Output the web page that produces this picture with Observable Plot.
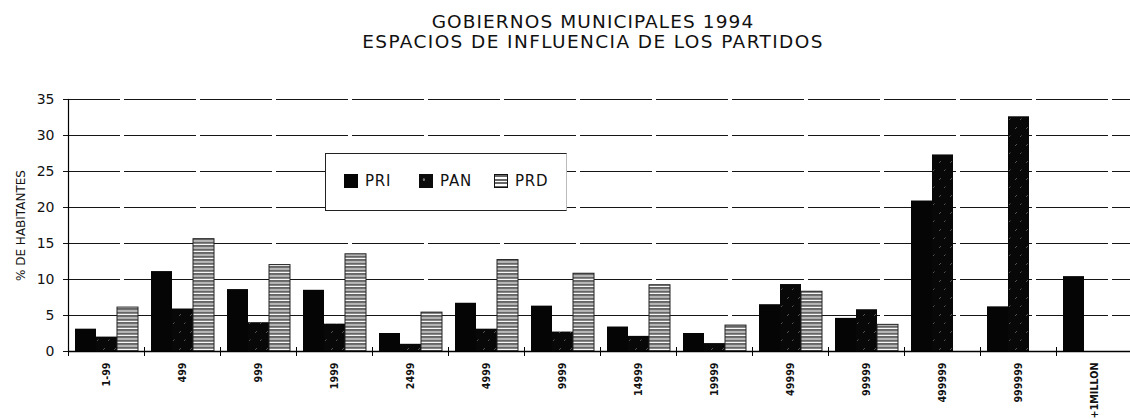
<!DOCTYPE html>
<html>
<head>
<meta charset="utf-8">
<script src="https://cdn.jsdelivr.net/npm/d3@7"></script>
<script src="https://cdn.jsdelivr.net/npm/@observablehq/plot@0.6"></script>
<style>
  body { margin: 0; background: #fff; font-family: "DejaVu Sans", sans-serif; color: #111; }
  #wrap { position: relative; width: 1130px; height: 420px; overflow: hidden; background: #fff; }
  .tl { position: absolute; left: 593px; transform: translateX(-50%); text-align: center;
        font-size: 18.5px; line-height: 18px; white-space: nowrap; color: #111; }
  #t1 { top: 13px; letter-spacing: 1.1px; }
  #t2 { top: 33px; letter-spacing: 1.4px; }
  #chart { position: absolute; left: 0; top: 56px; }
  #legend { position: absolute; left: 325px; top: 153px; width: 242px; height: 58px; background: #fff;
            border: 1px solid #222; border-right-color: #bbb; box-sizing: border-box; }
  .sw { position: absolute; top: 20px; width: 14px; height: 14px; box-sizing: border-box; }
  .lt { position: absolute; top: 19px; font-size: 15px; line-height: 17px; letter-spacing: 0.8px; color: #111; }
</style>
</head>
<body>
<div id="wrap">
  <div class="tl" id="t1">GOBIERNOS MUNICIPALES 1994</div>
  <div class="tl" id="t2">ESPACIOS DE INFLUENCIA DE LOS PARTIDOS</div>
  <div id="chart"></div>
  <div id="legend"></div>
</div>
<script>
// ---- data ----
const categories = ["1-99", "499", "999", "1999", "2499", "4999", "9999", "14999", "19999", "49999", "99999", "499999", "999999", "+1MILLON"];
const parties = ["PRI", "PAN", "PRD"];
const pri = [3.1, 11.1, 8.6, 8.5, 2.5, 6.7, 6.3, 3.4, 2.5, 6.5, 4.6, 20.9, 6.2, 10.4];
const pan = [2.0, 5.9, 4.0, 3.8, 1.0, 3.1, 2.7, 2.1, 1.1, 9.3, 5.8, 27.3, 32.6, null];
const prd = [6.1, 15.6, 12.0, 13.5, 5.4, 12.7, 10.8, 9.2, 3.6, 8.3, 3.7, null, null, null];
const yTicks = [0, 5, 10, 15, 20, 25, 30, 35];
const yLabel = "% DE HABITANTES";

const series = { PRI: pri, PAN: pan, PRD: prd };
const rows = p => categories.map((c, i) => ({ cat: c, party: p, value: series[p][i] })).filter(d => d.value != null);

const fills = { PRI: "#050505", PAN: "url(#panPat)", PRD: "url(#prdPat)" };

const chart = Plot.plot({
  width: 1130,
  height: 364,
  marginLeft: 66,
  marginRight: -3,
  marginTop: 43,
  marginBottom: 69,
  style: { fontFamily: "DejaVu Sans, sans-serif", background: "transparent", color: "#111", overflow: "visible" },
  fx: { domain: categories, paddingInner: 0, paddingOuter: 0, label: null },
  x: { domain: parties, axis: null, paddingInner: 0, paddingOuter: 0.243 },
  y: { domain: [0, 35], axis: null },
  marks: [
    Plot.ruleY(yTicks.filter(t => t > 0), { stroke: "#151515", strokeWidth: 1.1, strokeDasharray: "52,4,26,3,38,7" }),
    ...parties.map(p => Plot.barY(rows(p), {
      fx: "cat", x: "party", y: "value", fill: fills[p],
      stroke: p === "PRD" ? "#222" : null, strokeWidth: 1
    })),
    Plot.ruleY([0], { stroke: "#000", strokeWidth: 1.4 }),
    Plot.dot([0], { frameAnchor: "bottom-left", symbol: "plus", r: 3, stroke: "#000", strokeWidth: 1 }),
    Plot.frame({ anchor: "left", facetAnchor: "left", stroke: "#000", strokeWidth: 1.2 }),
    Plot.axisY({ ticks: yTicks, tickSize: 5, tickPadding: 9, fontSize: 14, label: null, facetAnchor: "left" }),
    Plot.text([yLabel], { frameAnchor: "left", dx: -47, rotate: -90, textAnchor: "middle", fontSize: 12, facetAnchor: "left", fill: "#111" }),
    Plot.axisFx({ anchor: "bottom", tickRotate: -90, tickSize: 0, tickPadding: 11, fontSize: 9.6, fontWeight: "bold", label: null })
  ]
});

d3.select(chart).insert("defs", ":first-child").html(`
  <pattern id="panPat" patternUnits="userSpaceOnUse" width="11" height="17">
    <rect width="11" height="17" fill="#080808"/>
    <path d="M2 5l2 -2 M7 13l1.5 -1.5" stroke="#777" stroke-width="0.7"/>
  </pattern>
  <pattern id="prdPat" patternUnits="userSpaceOnUse" width="8" height="3.5">
    <rect width="8" height="3.5" fill="#666"/>
    <rect y="2.4" width="8" height="1.1" fill="#ffffff"/>
  </pattern>
`);
document.getElementById("chart").appendChild(chart);

// legend (inside plot area, as in the reference)
const legend = document.getElementById("legend");
const swStyles = {
  PRI: "background:#050505;",
  PAN: "background:#0c0c0c radial-gradient(circle at 35% 40%, #777 0 1px, transparent 1.5px);",
  PRD: "background:repeating-linear-gradient(#666 0 2.4px, #fff 2.4px 3.5px);border:1.5px solid #111;"
};
const legendX = [18, 93, 168];
parties.forEach((p, i) => {
  const s = document.createElement("div");
  s.className = "sw";
  s.style.cssText = swStyles[p] + `left:${legendX[i]}px;`;
  legend.appendChild(s);
  const t = document.createElement("div");
  t.className = "lt";
  t.style.left = (legendX[i] + 21) + "px";
  t.textContent = p;
  legend.appendChild(t);
});
</script>
</body>
</html>
